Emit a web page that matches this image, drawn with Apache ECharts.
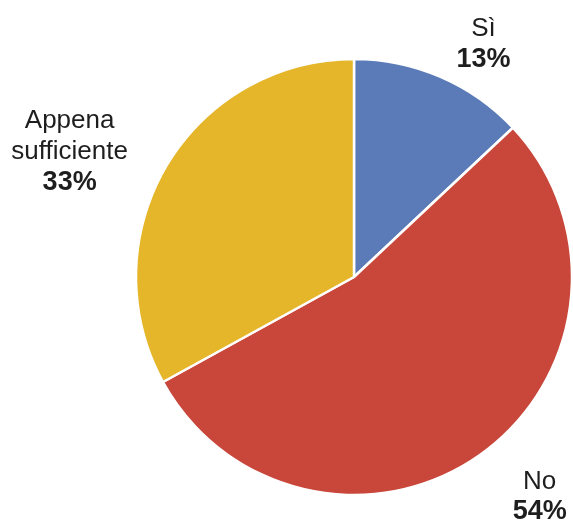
<!DOCTYPE html>
<html>
<head>
<meta charset="utf-8">
<script src="https://cdn.jsdelivr.net/npm/echarts@6/dist/echarts.min.js"></script>
<style>html,body{margin:0;padding:0;background:#fff}#c{width:573px;height:521px}</style>
</head>
<body>
<div id="c"></div>
<script>
var categories = ['Sì', 'No', 'Appena\nsufficiente'];
var values = [13, 54, 33];
var colors = ['#5b7bb8', '#c8473a', '#e5b52a'];

var chart = echarts.init(document.getElementById('c'), null, {renderer: 'canvas'});
var data = categories.map(function (c, i) {
  return {name: c, value: values[i], itemStyle: {color: colors[i]}};
});
var font = 'Liberation Sans, Arial, sans-serif';
var labelNudge = [[-5, 4], [2, 11], [1, 6]];
chart.setOption({
  animation: false,
  backgroundColor: '#fff',
  series: [{
    type: 'pie',
    center: [354, 277],
    radius: 218,
    startAngle: 90,
    clockwise: true,
    avoidLabelOverlap: false,
    data: data,
    itemStyle: {borderColor: '#fff', borderWidth: 2.5},
    label: {
      show: true,
      position: 'outside',
      align: 'center',
      fontFamily: font,
      color: '#1e1e1e',
      formatter: function (p) {
        var name = p.name.split('\n').map(function (s) { return '{n|' + s + '}'; }).join('\n');
        return name + '\n{p|' + p.value + '%}';
      },
      rich: {
        n: {fontSize: 26, lineHeight: 30.5, fontFamily: font, color: '#1e1e1e', align: 'center'},
        p: {fontSize: 27, lineHeight: 30.5, fontWeight: 'bold', fontFamily: font, color: '#1e1e1e', align: 'center'}
      }
    },
    labelLine: {show: false, length: 40, length2: 0},
    labelLayout: function (p) {
      var o = labelNudge[p.dataIndex];
      return {dx: o[0], dy: o[1]};
    },
    emphasis: {disabled: true}
  }]
});
</script>
</body>
</html>
